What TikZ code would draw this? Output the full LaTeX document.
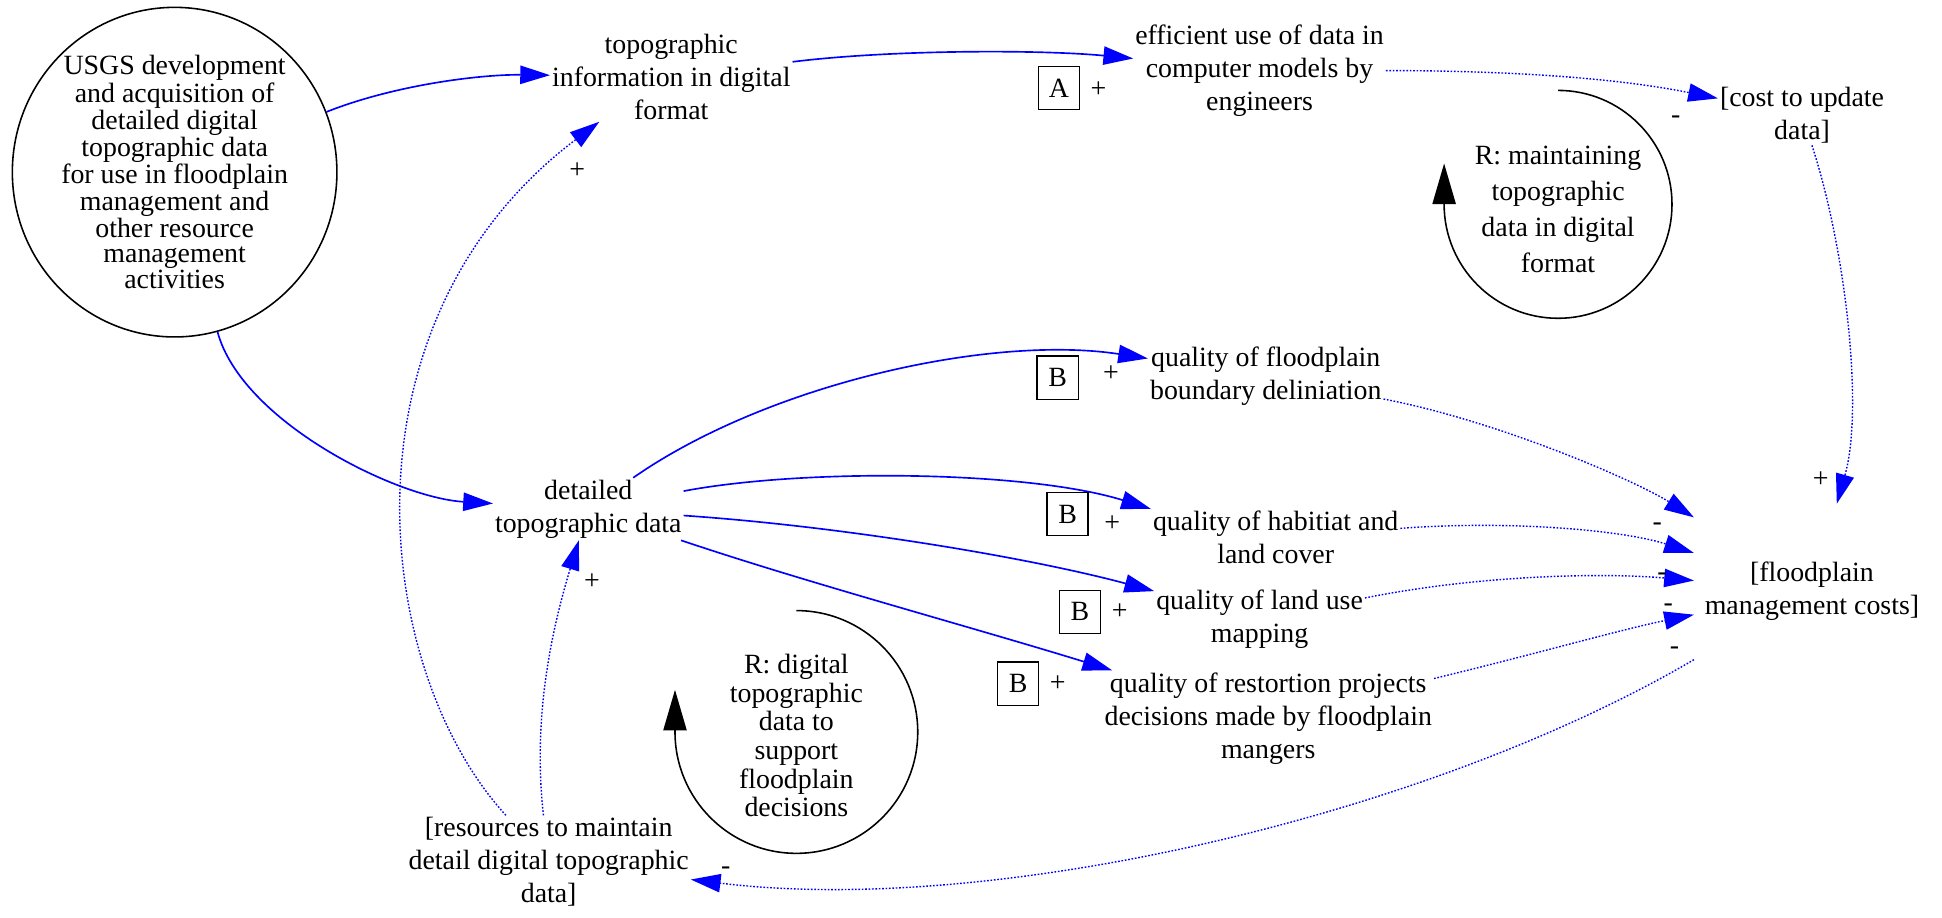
\documentclass[tikz,border=0pt]{standalone}
\usepackage{fontspec}
\setmainfont{Liberation Serif}
\usetikzlibrary{arrows.meta, shapes.geometric}
\definecolor{cblue}{HTML}{0000FF}
\tikzset{
  every picture/.style={font=\fontsize{16}{19}\selectfont},
  varnode/.style={align=center, inner sep=1pt},
  poslink/.style={-{Triangle[length=6mm, width=3.7mm]}, draw=cblue, line width=0.95pt},
  dotlink/.style={poslink, densely dotted, line width=0.8pt},
  letterbox/.style={draw, line width=0.8pt, minimum width=8.3mm, minimum height=8.7mm, inner sep=0pt},
  signlabel/.style={inner sep=0pt},
  loopback/.style={-{Triangle[length=8.2mm, width=4.7mm]}, line width=0.9pt},
}

\begin{document}
\begin{tikzpicture}[x=0.025cm, y=-0.025cm,
    blob/.style={ellipse, draw, line width=0.9pt, minimum width=6.55cm, minimum height=6.45cm,
                 inner sep=0pt, align=center, font=\fontsize{16}{14}\selectfont},
    loopname/.style={align=center, inner sep=0pt}]
  \useasboundingbox (0,0) rectangle (1568,741);
  % variables
  \node[blob] (usgs) at (141,139) {USGS development\\and acquisition of\\detailed digital\\topographic data\\for use in floodplain\\management and\\other resource\\management\\activities};
  \node[varnode] (topo) at (542,62) {topographic\\information in digital\\format};
  \node[varnode] (effic) at (1017,57) {efficient use of data in\\computer models by\\engineers};
  \node[varnode] (cost) at (1455,93) {[cost to update\\data]};
  \node[varnode] (detail) at (475,411) {detailed\\topographic data};
  \node[varnode] (bound) at (1022,304) {quality of floodplain\\boundary deliniation};
  \node[varnode] (habit) at (1030,434) {quality of habitiat and\\land cover};
  \node[varnode] (landuse) at (1017,500) {quality of land use\\mapping};
  \node[varnode] (restor) at (1024,580) {quality of restortion projects\\decisions made by floodplain\\mangers};
  \node[varnode, minimum width=4.75cm, minimum height=3.5cm] (costs) at (1463,477) {[floodplain\\management costs]};
  \node[varnode] (resrc) at (443,696) {[resources to maintain\\detail digital topographic\\data]};

  % loops
  \node[loopname, font=\fontsize{16}{20.8}\selectfont] (loopA) at (1258,169) {R: maintaining\\topographic\\data in digital\\format};
  \node[loopname, font=\fontsize{16}{16.4}\selectfont] (loopB) at (643,594) {R: digital\\topographic\\data to\\support\\floodplain\\decisions};
  \draw[loopback] (1258,73) arc[start angle=-90, end angle=180, radius=92] -- ++(0,-33);
  \draw[loopback] (643,493) arc[start angle=-90, end angle=180, radius=98] -- ++(0,-34);

  % links
  \draw[poslink] (usgs) .. controls (320,68) and (390,60) .. (topo);
  \draw[poslink] (topo) .. controls (720,40) and (840,40) .. (effic);
  \draw[dotlink] (effic) .. controls (1210,57) and (1300,62) .. (cost);
  \draw[dotlink] (cost) .. controls (1490,200) and (1505,330) .. (costs);
  \draw[poslink] (usgs) .. controls (195,340) and (320,402) .. (detail);
  \draw[poslink] (detail) .. controls (620,310) and (800,270) .. (bound);
  \draw[poslink] (detail) .. controls (650,378) and (830,380) .. (habit.north west);
  \draw[poslink] (detail) .. controls (680,425) and (830,450) .. (landuse);
  \draw[poslink] (detail) .. controls (650,470) and (780,505) .. (restor);
  \draw[dotlink] (bound) .. controls (1210,340) and (1320,388) .. (costs);
  \draw[dotlink] (habit) .. controls (1220,420) and (1310,428) .. (costs);
  \draw[dotlink] (landuse) .. controls (1190,465) and (1290,462) .. (costs);
  \draw[dotlink] (restor) .. controls (1240,528) and (1310,508) .. (costs);
  \draw[dotlink] (costs) .. controls (1150,660) and (800,740) .. (resrc);
  \draw[dotlink] (resrc) .. controls (430,580) and (445,510) .. (detail);
  \draw[dotlink] (resrc) .. controls (300,540) and (270,260) .. (topo.212);

  % polarities and delay boxes
  \foreach \n/\x/\y/\s in {a/466/138/+, b/478/470/+, c/887/72/+, d/1353/97/-, e/1470/387/+,
      f/897/302/+, g/898/423/+, h/904/494/+, i/854/552/+,
      j/1338/425/-, k/1342/466/-, l/1347/491/-, m/1352/525/-, n/586/703/-}
    \node[signlabel] (sg\n) at (\x,\y) {\s};
  \foreach \n/\x/\y/\t in {A/855/71/A, B1/854/305/B, B2/862/415/B, B3/872/494/B, B4/822/552/B}
    \node[letterbox] (box\n) at (\x,\y) {\t};
\end{tikzpicture}
\end{document}
